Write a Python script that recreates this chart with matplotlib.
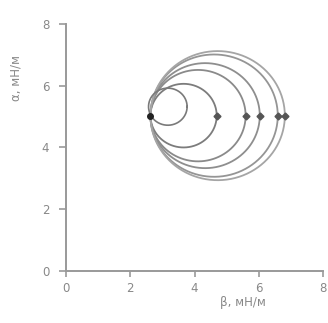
import numpy as np
import matplotlib
matplotlib.use("Agg")
import matplotlib.pyplot as plt

# Circles (Mohr-like): common left point, individual right points
left_x = 2.63
center_y = 5.03
right_x = [4.69, 5.59, 6.03, 6.59, 6.81]
circle_colors = ['#7c7c7c', '#8a8a8a', '#8e8e8e', '#959595', '#a5a5a5']

# small inner circle
small_cx, small_cy, small_r = 3.17, 5.32, 0.6

xticks = [0, 2, 4, 6, 8]
yticks = [0, 2, 4, 6, 8]

fig = plt.figure(figsize=(3.28, 3.23), dpi=100)
ax = fig.add_axes([0.201, 0.161, 0.784, 0.765])

theta = np.linspace(0, 2 * np.pi, 400)
for rx, c in zip(right_x, circle_colors):
    cx = (left_x + rx) / 2
    r = (rx - left_x) / 2
    ax.plot(cx + r * np.cos(theta), center_y + r * np.sin(theta), color=c, lw=1.3)
    ax.plot([rx], [center_y], marker='D', ms=3.5, color='#555555', mec='#555555')

ax.plot(small_cx + small_r * np.cos(theta), small_cy + small_r * np.sin(theta),
        color='#7a7a7a', lw=1.2)
ax.plot([left_x], [center_y], marker='o', ms=4, color='#222222')

ax.set_xlim(0, 8)
ax.set_ylim(0, 8)
ax.set_xticks(xticks)
ax.set_yticks(yticks)
for s in ['top', 'right']:
    ax.spines[s].set_visible(False)
for s in ['left', 'bottom']:
    ax.spines[s].set_color('#999999')
    ax.spines[s].set_linewidth(1.4)
ax.tick_params(colors='#999999', labelcolor='#888888', labelsize=8.5, width=1.2)
ax.tick_params(axis='y', length=5, pad=7)
ax.tick_params(axis='x', length=4, pad=4)

ax.set_xlabel('β, мН/м', fontsize=8.5, color='#888888', x=0.69, labelpad=1)
ax.set_ylabel('α, мН/м', fontsize=8.5, color='#888888', y=0.78, labelpad=14)

fig.savefig('out.png', dpi=100)
